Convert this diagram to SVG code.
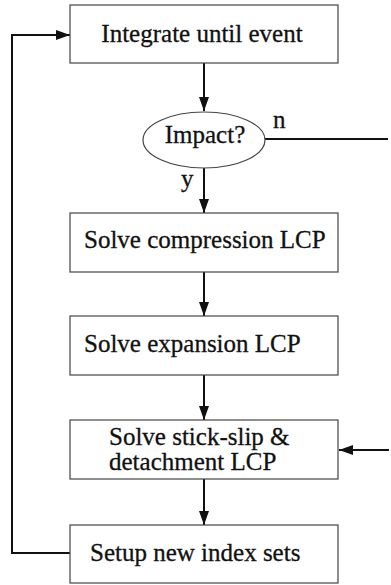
<svg xmlns="http://www.w3.org/2000/svg" width="391" height="585" viewBox="0 0 391 585">
<style>
.box{fill:#fff;stroke:#444;stroke-width:1.2}
.t{font-family:"Liberation Serif","Times New Roman",serif;font-size:25px;fill:#111;stroke:#111;stroke-width:0.3}
.c{fill:none;stroke:#111;stroke-width:2}
</style>
<defs>
<marker id="ah" viewBox="0 0 14 10" refX="14" refY="5" markerWidth="14" markerHeight="10" markerUnits="userSpaceOnUse" orient="auto">
<path d="M0,0 L14,5 L0,10 Z" fill="#111"/>
</marker>
</defs>
<rect width="391" height="585" fill="#fff"/>
<g id="connectors">
<line class="c" x1="204" y1="63" x2="204" y2="111" marker-end="url(#ah)"/>
<line class="c" x1="204" y1="168" x2="204" y2="213" marker-end="url(#ah)"/>
<line class="c" x1="204" y1="272" x2="204" y2="316" marker-end="url(#ah)"/>
<line class="c" x1="204" y1="375" x2="204" y2="420" marker-end="url(#ah)"/>
<line class="c" x1="204" y1="479" x2="204" y2="525" marker-end="url(#ah)"/>
<line class="c" x1="265" y1="139" x2="388" y2="139"/>
<line class="c" x1="389" y1="450" x2="339" y2="450" marker-end="url(#ah)"/>
<polyline class="c" points="70,553 12,553 12,35 70,35" marker-end="url(#ah)"/>
<text class="t" x="273" y="128">n</text>
<text class="t" x="181" y="187">y</text>
</g>
<g id="n1">
<rect class="box" x="70" y="5" width="268" height="58"/>
<text class="t" x="202" y="42" text-anchor="middle">Integrate until event</text>
</g>
<g id="n2">
<ellipse class="box" cx="204" cy="140" rx="61" ry="28"/>
<text class="t" x="205" y="143" text-anchor="middle">Impact?</text>
</g>
<g id="n3">
<rect class="box" x="70" y="213" width="268" height="59"/>
<text class="t" x="84" y="248">Solve compression LCP</text>
</g>
<g id="n4">
<rect class="box" x="70" y="316" width="268" height="59"/>
<text class="t" x="84" y="352">Solve expansion LCP</text>
</g>
<g id="n5">
<rect class="box" x="70" y="420" width="268" height="59"/>
<text class="t" x="109" y="445">Solve stick-slip &amp;</text>
<text class="t" x="109" y="470">detachment LCP</text>
</g>
<g id="n6">
<rect class="box" x="70" y="525" width="268" height="58"/>
<text class="t" x="90" y="561">Setup new index sets</text>
</g>
</svg>
